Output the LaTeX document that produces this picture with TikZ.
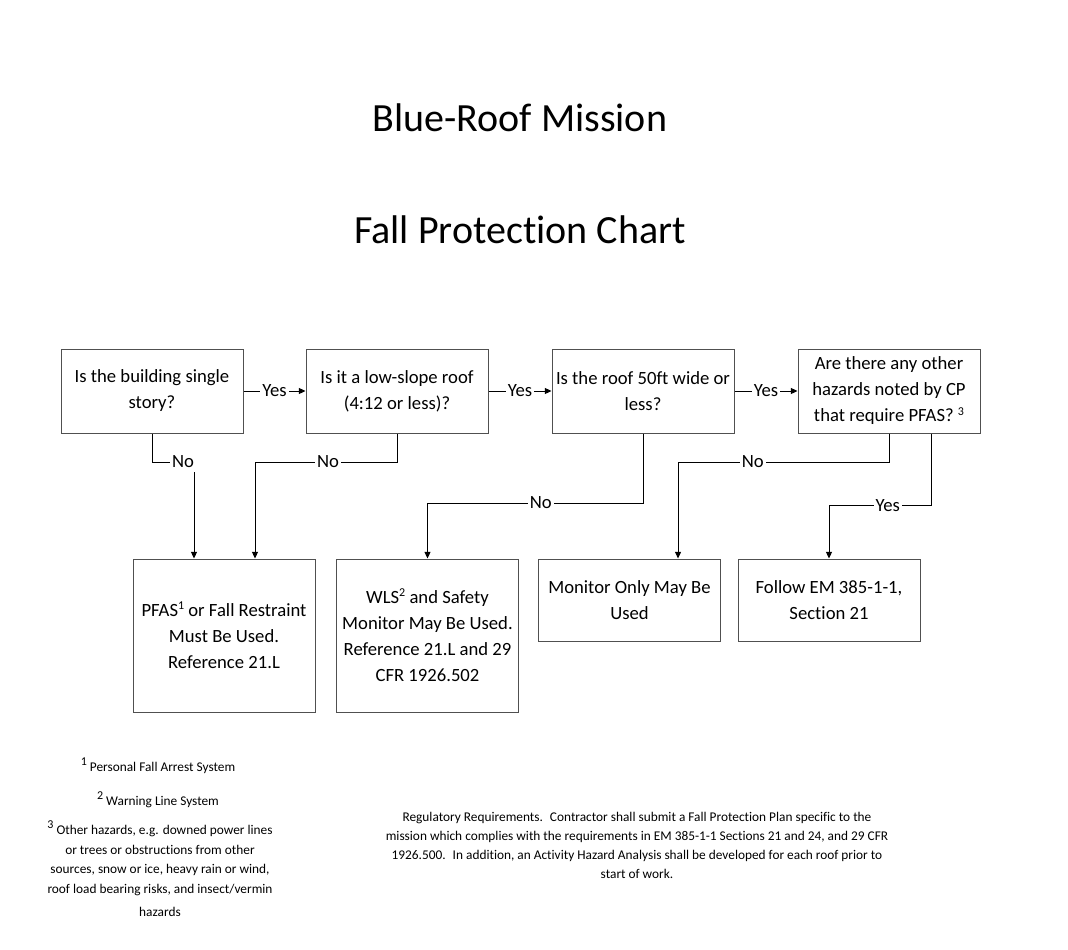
\documentclass[tikz,border=0pt]{standalone}
\usepackage{fontspec}
\setmainfont{Carlito}[Ligatures=NoCommon]
\usetikzlibrary{arrows.meta}
\definecolor{box-edge}{HTML}{505050}
\newcommand{\fnmark}[1]{\raisebox{0.75ex}{\fontsize{9}{10}\selectfont #1}}

\begin{document}
\begin{tikzpicture}[x=0.75pt,y=-0.75pt,
  qbox/.style={draw=box-edge,line width=0.75pt,minimum width=136.5pt,minimum height=63pt,align=center,inner sep=0pt,font=\fontsize{14}{19.5}\selectfont},
  abox/.style={qbox,minimum height=114.75pt},
  sbox/.style={qbox,minimum height=61.5pt},
  conn/.style={line width=0.75pt,-{Triangle[length=5pt,width=4.5pt]}},
  lbl/.style={fill=white,inner sep=1.5pt,font=\fontsize{14}{16}\selectfont},
  note/.style={align=center,font=\fontsize{10}{14.6}\selectfont}]
  \useasboundingbox[fill=white] (0,0) rectangle (1068,950);
  % titles
  \node[font=\fontsize{30}{36}\selectfont] (title1) at (520,118) {Blue-Roof Mission};
  \node[font=\fontsize{30}{36}\selectfont] (title2) at (520,230) {Fall Protection Chart};
  % questions
  \node[qbox] (q1) at (152,391) {Is the building single\\story?};
  \node[qbox] (q2) at (397,391) {Is it a low-slope roof\\(4:12 or less)?};
  \node[qbox] (q3) at (643,391) {Is the roof 50ft wide or\\less?};
  \node[qbox] (q4) at (889,391) {Are there any other\\hazards noted by CP\\that require PFAS? \fnmark{3}};
  % results
  \node[abox] (r1) at (224,635.5) {PFAS\fnmark{1} or Fall Restraint\\Must Be Used.\\Reference 21.L};
  \node[abox] (r2) at (427.5,635.5) {WLS\fnmark{2} and Safety\\Monitor May Be Used.\\Reference 21.L and 29\\CFR 1926.502};
  \node[sbox] (r3) at (629.5,600) {Monitor Only May Be\\Used};
  \node[sbox] (r4) at (829,600) {Follow EM 385-1-1,\\Section 21};
  % connector ends and levels
  \coordinate (r1a) at ([xshift=-22.5pt]r1.north);
  \coordinate (r1b) at ([xshift=23.25pt]r1.north);
  \coordinate (r3a) at ([xshift=36.4pt]r3.north);
  \coordinate (q4b) at ([xshift=32pt]q4.south);
  \coordinate (lvl1) at (0,462);
  \coordinate (lvl2) at (0,503);
  \coordinate (lvl3) at (0,505.5);
  % yes branch
  \draw[conn] (q1) -- node[lbl]{Yes} (q2);
  \draw[conn] (q2) -- node[lbl]{Yes} (q3);
  \draw[conn] (q3) -- node[lbl]{Yes} (q4);
  \draw[conn] (q4b) |- node[lbl,pos=.714]{Yes} (r4.north |- lvl3) -- (r4.north);
  % no branch
  \draw[conn] (q1.south) |- node[lbl,pos=.87,inner ysep=3pt]{No} (r1a |- lvl1) -- (r1a);
  \draw[conn] (q2.south) |- node[lbl,pos=.743]{No} (r1b |- lvl1) -- (r1b);
  \draw[conn] (q3.south) |- node[lbl,pos=.737]{No} (r2.north |- lvl2) -- (r2.north);
  \draw[conn] (q4.south) |- node[lbl,pos=.823]{No} (r3a |- lvl1) -- (r3a);
  % footnotes
  \node[note] (fn1) at (158,766) {\raisebox{1ex}{\small 1} Personal Fall Arrest System};
  \node[note] (fn2) at (158,800) {\raisebox{1ex}{\small 2} Warning Line System};
  \node[note,anchor=north] (fn3) at (160,816) {\raisebox{1ex}{\small 3} Other hazards, e.g. downed power lines\\or trees or obstructions from other\\sources, snow or ice, heavy rain or wind,\\roof load bearing risks, and insect/vermin\\[3pt]hazards};
  \node[note,font=\fontsize{10}{14.3}\selectfont] (regs) at (637,845.5) {Regulatory Requirements.~ Contractor shall submit a Fall Protection Plan specific to the\\mission which complies with the requirements in EM 385-1-1 Sections 21 and 24, and 29 CFR\\1926.500.~ In addition, an Activity Hazard Analysis shall be developed for each roof prior to\\start of work.};
\end{tikzpicture}
\end{document}
